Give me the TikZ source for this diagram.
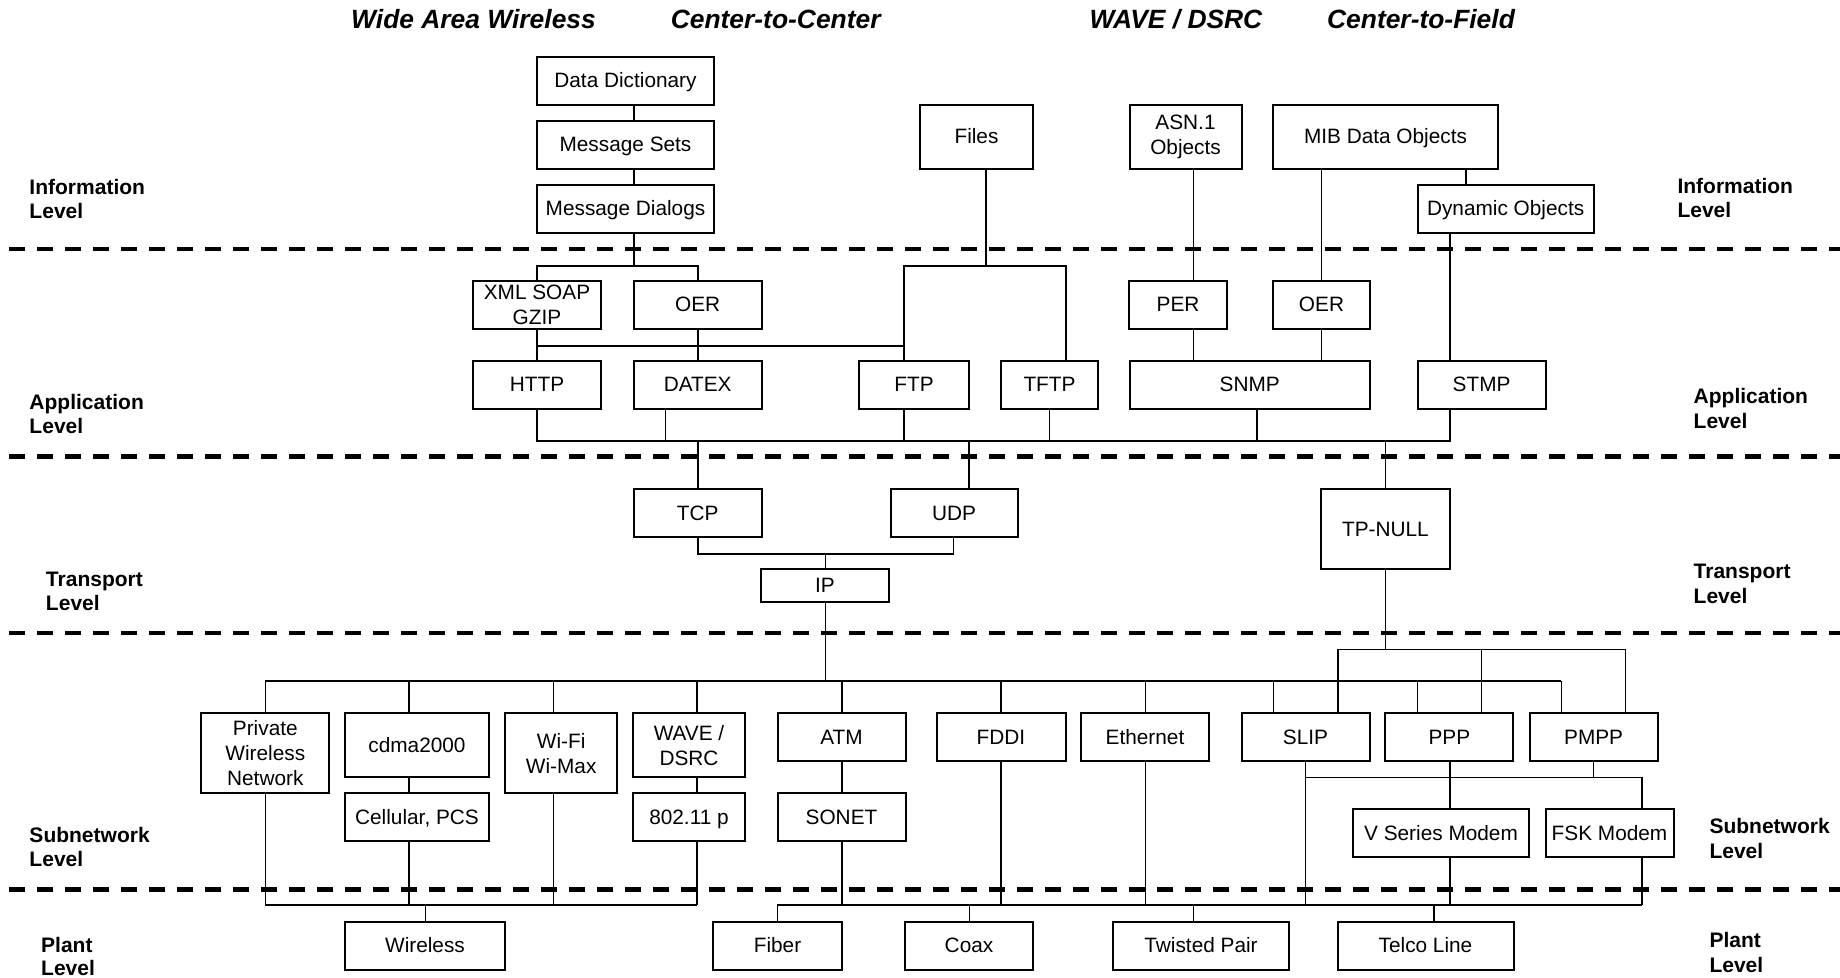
\documentclass[tikz,border=0pt]{standalone}
\usepackage{fontspec}
\setmainfont{Liberation Sans}
\newcommand\bxfont{\fontsize{20.8bp}{25bp}\selectfont}
\newcommand\lvfont{\fontsize{21bp}{24bp}\selectfont\bfseries}
\newcommand\hdfont{\fontsize{26.4bp}{30bp}\selectfont\bfseries\itshape}
\begin{document}
\begin{tikzpicture}[x=1bp,y=-1bp,
  box/.style={draw, line width=2bp, inner sep=0pt, align=center, font=\bxfont},
  one/.style={text height=13.5bp, text depth=0bp},
  link/.style={line width=1.6bp},
  sep/.style={line width=4.6bp, dash pattern=on 16bp off 12bp},
  lvl/.style={anchor=base west, inner sep=0pt, font=\lvfont},
  head/.style={anchor=base, inner sep=0pt, font=\hdfont}]
\useasboundingbox (0,0) rectangle (1840,977);
\fill[white] (0,0) rectangle (1840,977);

% level separators
\draw[sep] (9.3,249) -- (1840,249);
\draw[sep] (9.3,456.5) -- (1840,456.5);
\draw[sep] (9.3,633) -- (1840,633);
\draw[sep] (9.3,889.5) -- (1840,889.5);

% column headings
\node[head] (hWide) at (473.5,28) {Wide Area Wireless};
\node[head] (hC2C)  at (775.7,28) {Center-to-Center};
\node[head] (hWave) at (1176,28) {WAVE / DSRC};
\node[head] (hC2F)  at (1421,28) {Center-to-Field};

% level names, left side
\node[lvl] (lInfoA) at (29.3,194.5) {Information};
\node[lvl] (lInfoB) at (29.3,218.5) {Level};
\node[lvl] (lAppA)  at (29.3,409) {Application};
\node[lvl] (lAppB)  at (29.3,433) {Level};
\node[lvl] (lTrA)   at (45.8,586) {Transport};
\node[lvl] (lTrB)   at (45.8,610) {Level};
\node[lvl] (lSubA)  at (29.3,842) {Subnetwork};
\node[lvl] (lSubB)  at (29.3,866.5) {Level};
\node[lvl] (lPlA)   at (41,952) {Plant};
\node[lvl] (lPlB)   at (41,975) {Level};
% level names, right side
\node[lvl] (rInfoA) at (1677.3,193.5) {Information};
\node[lvl] (rInfoB) at (1677.3,217) {Level};
\node[lvl] (rAppA)  at (1693.5,403.5) {Application};
\node[lvl] (rAppB)  at (1693.5,428) {Level};
\node[lvl] (rTrA)   at (1693.5,578) {Transport};
\node[lvl] (rTrB)   at (1693.5,603) {Level};
\node[lvl] (rSubA)  at (1709.3,833) {Subnetwork};
\node[lvl] (rSubB)  at (1709.3,858) {Level};
\node[lvl] (rPlA)   at (1709.3,947) {Plant};
\node[lvl] (rPlB)   at (1709.3,972) {Level};

% information level
\node[box,one,minimum width=177bp,minimum height=48bp] (dd) at (625.5,81.2) {Data Dictionary};
\node[box,one,minimum width=177bp,minimum height=48bp] (ms) at (625.5,145.2) {Message Sets};
\node[box,one,minimum width=177bp,minimum height=48bp] (md) at (625.5,209.2) {Message Dialogs};
\node[box,one,minimum width=113bp,minimum height=64bp] (files) at (976.5,137) {Files};
\node[box,minimum width=112bp,minimum height=64bp] (asn) at (1185.5,137) {ASN.1\\Objects};
\node[box,one,minimum width=225bp,minimum height=64bp] (mib) at (1385.5,137) {MIB Data Objects};
\node[box,one,minimum width=176bp,minimum height=48bp] (dyn) at (1505.6,209.2) {Dynamic Objects};

% application level
\node[box,minimum width=128bp,minimum height=48bp] (xml) at (537,305.2) {XML SOAP\\GZIP};
\node[box,one,minimum width=128bp,minimum height=48bp] (oerA) at (697.7,305.2) {OER};
\node[box,one,minimum width=98bp,minimum height=48bp] (per) at (1178,305.2) {PER};
\node[box,one,minimum width=97bp,minimum height=48bp] (oerB) at (1321.5,305.2) {OER};
\node[box,one,minimum width=128bp,minimum height=48bp] (http) at (537,385) {HTTP};
\node[box,one,minimum width=128bp,minimum height=48bp] (datex) at (697.7,385) {DATEX};
\node[box,one,minimum width=110bp,minimum height=48bp] (ftp) at (914,385) {FTP};
\node[box,one,minimum width=97bp,minimum height=48bp] (tftp) at (1049.5,385) {TFTP};
\node[box,one,minimum width=240.5bp,minimum height=48bp] (snmp) at (1249.75,385) {SNMP};
\node[box,one,minimum width=128bp,minimum height=48bp] (stmp) at (1481.6,385) {STMP};

% transport level
\node[box,one,minimum width=128bp,minimum height=48bp] (tcp) at (697.7,513.3) {TCP};
\node[box,one,minimum width=127bp,minimum height=48bp] (udp) at (954,513.3) {UDP};
\node[box,one,minimum width=128bp,minimum height=32.7bp] (ip) at (825,585.3) {IP};
\node[box,one,minimum width=129bp,minimum height=80bp] (tpnull) at (1385.4,529.3) {TP-NULL};

% subnetwork level
\node[box,minimum width=128bp,minimum height=80bp] (priv) at (265.3,753.3) {Private\\Wireless\\Network};
\node[box,one,minimum width=144bp,minimum height=64bp] (cdma) at (417,745.3) {cdma2000};
\node[box,one,minimum width=144bp,minimum height=48bp] (cell) at (417,817.3) {Cellular, PCS};
\node[box,minimum width=112bp,minimum height=80bp] (wifi) at (561.2,753.3) {Wi-Fi\\Wi-Max};
\node[box,minimum width=112bp,minimum height=64bp] (wave) at (689,745.3) {WAVE /\\DSRC};
\node[box,one,minimum width=112bp,minimum height=48bp] (dot11p) at (689,817.3) {802.11 p};
\node[box,one,minimum width=128bp,minimum height=48bp] (atm) at (841.5,737.3) {ATM};
\node[box,one,minimum width=128bp,minimum height=48bp] (sonet) at (841.5,817.3) {SONET};
\node[box,one,minimum width=129bp,minimum height=48bp] (fddi) at (1001,737.3) {FDDI};
\node[box,one,minimum width=128.5bp,minimum height=48bp] (eth) at (1145,737.3) {Ethernet};
\node[box,one,minimum width=128bp,minimum height=48bp] (slip) at (1305.5,737.3) {SLIP};
\node[box,one,minimum width=128bp,minimum height=48bp] (ppp) at (1449.4,737.3) {PPP};
\node[box,one,minimum width=128bp,minimum height=48bp] (pmpp) at (1593.6,737.3) {PMPP};
\node[box,one,minimum width=176bp,minimum height=48bp] (vsm) at (1441,833.3) {V Series Modem};
\node[box,one,minimum width=128bp,minimum height=48bp] (fsk) at (1609.5,833.3) {FSK Modem};

% plant level
\node[box,one,minimum width=160bp,minimum height=48bp] (wireless) at (425,945.5) {Wireless};
\node[box,one,minimum width=129bp,minimum height=48bp] (fiber) at (777.5,945.5) {Fiber};
\node[box,one,minimum width=128bp,minimum height=48bp] (coax) at (969,945.5) {Coax};
\node[box,one,minimum width=176bp,minimum height=48bp] (twisted) at (1201,945.5) {Twisted Pair};
\node[box,one,minimum width=176bp,minimum height=48bp] (telco) at (1425.5,945.5) {Telco Line};

% bus levels
\coordinate (busI)  at (0,266);
\coordinate (busX)  at (0,346);
\coordinate (busA)  at (0,441);
\coordinate (busT)  at (0,553.7);
\coordinate (busN)  at (0,649.3);
\coordinate (busS)  at (0,681);
\coordinate (busM)  at (0,777.3);
\coordinate (busP)  at (0,905);

% information level links
\draw[link] (dd.south -| 634,0) -- (ms.north -| 634,0);
\draw[link] (ms.south -| 634,0) -- (md.north -| 634,0);
\draw[link] (md.south -| 634,0) -- (busI -| 634,0);
\draw[link] (xml.north) -- (busI -| xml.north) -- (busI -| oerA.north) -- (oerA.north);
\draw[link] (files.south -| 986,0) -- (busI -| 986,0);
\draw[link] (ftp.north -| 904,0) -- (busI -| 904,0) -- (busI -| 1066,0) -- (tftp.north -| 1066,0);
\draw[link] (asn.south -| 1193.5,0) -- (per.north -| 1193.5,0);
\draw[link] (mib.south -| 1321.4,0) -- (oerB.north -| 1321.4,0);
\draw[link] (mib.south -| 1466,0) -- (dyn.north -| 1466,0);
\draw[link] (dyn.south -| 1450,0) -- (stmp.north -| 1450,0);

% application level links
\draw[link] (xml.south) -- (http.north);
\draw[link] (oerA.south) -- (datex.north);
\draw[link] (busX -| xml.south) -- (busX -| 904,0);
\draw[link] (per.south -| 1193.5,0) -- (snmp.north -| 1193.5,0);
\draw[link] (oerB.south -| 1321.4,0) -- (snmp.north -| 1321.4,0);
\draw[link] (http.south) -- (busA -| http.south) -- (busA -| 1450,0) -- (stmp.south -| 1450,0);
\draw[link] (datex.south -| 665.4,0) -- (busA -| 665.4,0);
\draw[link] (ftp.south -| 904,0) -- (busA -| 904,0);
\draw[link] (tftp.south) -- (busA -| tftp.south);
\draw[link] (snmp.south -| 1257,0) -- (busA -| 1257,0);
\draw[link] (busA -| tcp.north) -- (tcp.north);
\draw[link] (busA -| 969,0) -- (udp.north -| 969,0);
\draw[link] (busA -| tpnull.north) -- (tpnull.north);

% transport level links
\draw[link] (tcp.south) -- (busT -| tcp.south) -- (busT -| 953.4,0) -- (udp.south -| 953.4,0);
\draw[link] (busT -| 825.6,0) -- (ip.north -| 825.6,0);
\draw[link] (ip.south -| 825.6,0) -- (busS -| 825.6,0);
\draw[link] (tpnull.south) -- (busN -| tpnull.south);

% subnetwork level links
\draw[link] (busS -| 265.3,0) -- (busS -| 1561.4,0);
\foreach \n/\x in {priv/265.3, cdma/409, wifi/553.4, wave/697, atm/842,
                   fddi/1001, eth/1145.3, slip/1273.3, ppp/1417.6, pmpp/1561.4}
  \draw[link] (busS -| \x,0) -- (\n.north -| \x,0);
\draw[link] (busN -| 1337.8,0) -- (busN -| 1625.4,0);
\foreach \n/\x in {slip/1337.8, ppp/1481.6, pmpp/1625.4}
  \draw[link] (busN -| \x,0) -- (\n.north -| \x,0);
\draw[link] (cdma.south -| 409,0) -- (cell.north -| 409,0);
\draw[link] (wave.south -| 697,0) -- (dot11p.north -| 697,0);
\draw[link] (atm.south -| 842,0) -- (sonet.north -| 842,0);
\draw[link] (busM -| 1305.5,0) -- (busM -| 1641.8,0);
\draw[link] (slip.south -| 1305.5,0) -- (busP -| 1305.5,0);
\draw[link] (ppp.south -| 1450,0) -- (vsm.north -| 1450,0);
\draw[link] (pmpp.south) -- (busM -| pmpp.south);
\draw[link] (busM -| 1641.8,0) -- (fsk.north -| 1641.8,0);

% plant level links
\draw[link] (busP -| 265.3,0) -- (busP -| 697,0);
\draw[link] (priv.south -| 265.3,0) -- (busP -| 265.3,0);
\draw[link] (cell.south -| 409,0) -- (busP -| 409,0);
\draw[link] (wifi.south -| 553.4,0) -- (busP -| 553.4,0);
\draw[link] (dot11p.south -| 697,0) -- (busP -| 697,0);
\draw[link] (busP -| 425.5,0) -- (wireless.north -| 425.5,0);
\draw[link] (busP -| 777.3,0) -- (busP -| 1641.8,0);
\draw[link] (busP -| 777.3,0) -- (fiber.north -| 777.3,0);
\draw[link] (sonet.south -| 842,0) -- (busP -| 842,0);
\draw[link] (busP -| 969.3,0) -- (coax.north -| 969.3,0);
\draw[link] (fddi.south) -- (busP -| fddi.south);
\draw[link] (eth.south -| 1145.3,0) -- (busP -| 1145.3,0);
\draw[link] (busP -| 1193.5,0) -- (twisted.north -| 1193.5,0);
\draw[link] (busP -| 1434,0) -- (telco.north -| 1434,0);
\draw[link] (vsm.south -| 1450,0) -- (busP -| 1450,0);
\draw[link] (fsk.south -| 1641.8,0) -- (busP -| 1641.8,0);
\end{tikzpicture}
\end{document}
